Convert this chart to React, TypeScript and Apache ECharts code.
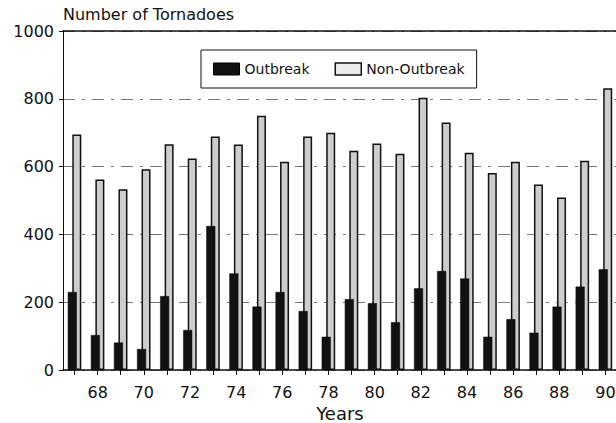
import React, { useEffect, useRef } from "react";
import * as echarts from "echarts";

const years = ["67","68","69","70","71","72","73","74","75","76","77","78","79","80","81","82","83","84","85","86","87","88","89","90"];
const outbreak = [230, 103, 81, 62, 218, 118, 425, 285, 187, 230, 174, 98, 209, 197, 141, 241, 292, 270, 98, 150, 110, 187, 246, 297];
const nonOutbreak = [695, 562, 533, 592, 666, 624, 689, 665, 750, 614, 689, 700, 647, 668, 638, 803, 730, 641, 581, 614, 547, 509, 617, 831];
const yTicks = [0, 200, 400, 600, 800, 1000];

const FONT = "DejaVu Sans";

export default function App() {
  const ref = useRef<HTMLDivElement>(null);
  useEffect(() => {
    if (!ref.current) return;
    const chart = echarts.init(ref.current, null, { renderer: "svg" });
    chart.setOption({
      animation: false,
      backgroundColor: "#ffffff",
      textStyle: { fontFamily: FONT, color: "#111" },
      legend: {
        left: 201,
        top: 50,
        padding: [12, 12, 12, 12],
        borderColor: "#111",
        borderWidth: 1,
        itemWidth: 26,
        itemHeight: 12,
        itemGap: 25,
        icon: "rect",
        textStyle: { fontFamily: FONT, fontSize: 14, color: "#111" },
        data: [
          { name: "Outbreak", itemStyle: { color: "#111", borderColor: "#000", borderWidth: 1 } },
          { name: "Non-Outbreak", itemStyle: { color: "#ececec", borderColor: "#111", borderWidth: 1.5 } },
        ],
      },
      grid: { left: 63, top: 31, width: 554, height: 339, outerBoundsMode: "none", containLabel: false },
      xAxis: [
        {
          type: "category",
          data: years,
          name: "Years",
          nameLocation: "middle",
          nameGap: 28,
          nameTextStyle: { fontFamily: FONT, fontSize: 18, lineHeight: 18, color: "#111" },
          axisLine: { lineStyle: { color: "#111", width: 1.5 } },
          axisTick: { show: true, interval: 0, alignWithLabel: true, length: 5, lineStyle: { color: "#111" } },
          axisLabel: {
            interval: (index: number) => index % 2 === 1,
            fontFamily: FONT,
            fontSize: 16,
            color: "#111",
            margin: 14,
          },
          splitLine: { show: false },
        },
        {
          type: "category",
          data: years,
          position: "top",
          axisLine: { show: true, lineStyle: { color: "#111", width: 1.5 } },
          axisTick: { show: false },
          axisLabel: { show: false },
        },
      ],
      yAxis: {
        type: "value",
        min: yTicks[0],
        max: yTicks[yTicks.length - 1],
        interval: 200,
        name: "Number of Tornadoes",
        nameLocation: "end",
        nameGap: 9,
        nameTextStyle: { fontFamily: FONT, fontSize: 16, color: "#111", align: "left" },
        axisLine: { show: true, lineStyle: { color: "#111", width: 1 } },
        axisTick: { show: true, length: 4, lineStyle: { color: "#111" } },
        axisLabel: {
          fontFamily: FONT,
          fontSize: 16,
          color: "#111",
          margin: 9,
          formatter: (v: number) => String(v),
        },
        splitLine: {
          show: true,
          lineStyle: { color: "#777", width: 1, type: [12, 7, 3, 7] },
        },
      },
      series: [
        {
          name: "Outbreak",
          type: "bar",
          data: outbreak,
          barWidth: 9,
          barGap: "-50%",
          z: 3,
          itemStyle: { color: "#111111", borderColor: "#000", borderWidth: 0.5 },
        },
        {
          name: "Non-Outbreak",
          type: "bar",
          data: nonOutbreak,
          barWidth: 9,
          z: 2,
          itemStyle: { color: "#cdcdcd", borderColor: "#111", borderWidth: 1.5 },
        },
      ],
    });
    return () => chart.dispose();
  }, []);
  return (
    <div
      ref={ref}
      style={{ position: "absolute", left: 0, top: 0, width: 616, height: 423 }}
    />
  );
}
